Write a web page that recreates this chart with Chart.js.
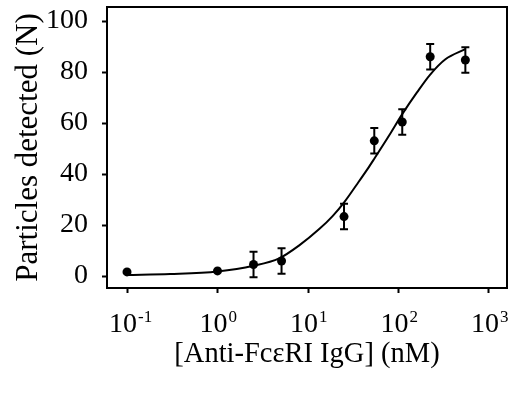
<!DOCTYPE html>
<html>
<head>
<meta charset="utf-8">
<script src="https://cdn.jsdelivr.net/npm/chart.js@4.4.1/dist/chart.umd.min.js"></script>
<style>
html,body{margin:0;padding:0;background:#fff;}
canvas{display:block;}
</style>
</head>
<body>
<canvas id="c" width="512" height="393"></canvas>
<script>
// ---- data ----
const xTickValues = [0.1, 1, 10, 100, 1000];
const xTickBase = '10';
const xTickExponents = ['-1', '0', '1', '2', '3'];
const yTickValues = [0, 20, 40, 60, 80, 100];

const concentration = [0.1, 1, 2.5, 5.1, 25, 54, 110, 224, 548];
const particles     = [1.6, 2.0, 4.5, 5.9, 23.3, 53, 60.4, 86, 84.7];
const errorBar      = [0, 0, 5, 5, 5, 5, 5, 5, 5];

const fitConc      = [0.1, 0.3, 1, 2.5, 4.8, 8, 13.4, 18.7, 25.2, 34, 45.6, 54, 80, 110, 160, 224, 330, 548];
const fitParticles = [0.4, 0.8, 1.8, 4.0, 6.9, 12, 18.5, 23.5, 29, 35.5, 42, 46, 55.5, 63.5, 72, 79, 85, 89];

const xLabel = '[Anti-Fc\u03B5RI IgG] (nM)';
const yLabel = 'Particles detected (N)';

const FONT = "'Liberation Serif', 'Times New Roman', serif";
const TICK_SIZE = 28;
const EXP_SIZE = 17;
const X_TICK_PAD = 15;
const X_TICK_LEN = 5;
const LABEL_SHIFT = -4;

const errorBarPlugin = {
  id: 'errorBars',
  afterDatasetsDraw(chart) {
    const ctx = chart.ctx, xs = chart.scales.x, ys = chart.scales.y;
    ctx.save();
    ctx.strokeStyle = '#000';
    ctx.lineWidth = 2;
    for (let i = 0; i < concentration.length; i++) {
      if (!errorBar[i]) continue;
      const px = xs.getPixelForValue(concentration[i]);
      const top = ys.getPixelForValue(particles[i] + errorBar[i]);
      const bot = ys.getPixelForValue(particles[i] - errorBar[i]);
      ctx.beginPath();
      ctx.moveTo(px, top); ctx.lineTo(px, bot);
      ctx.moveTo(px - 4, top); ctx.lineTo(px + 4, top);
      ctx.moveTo(px - 4, bot); ctx.lineTo(px + 4, bot);
      ctx.stroke();
    }
    ctx.restore();
  }
};

const framePlugin = {
  id: 'frame',
  afterDraw(chart) {
    const {ctx, chartArea: a} = chart;
    ctx.save();
    ctx.strokeStyle = '#000';
    ctx.lineWidth = 2;
    ctx.strokeRect(a.left, a.top, a.right - a.left, a.bottom - a.top);
    ctx.restore();
  }
};

// draws the decade exponents next to the "10" tick labels
const exponentPlugin = {
  id: 'exponents',
  afterDraw(chart) {
    const ctx = chart.ctx, xs = chart.scales.x;
    ctx.save();
    ctx.font = TICK_SIZE + 'px ' + FONT;
    const baseW = ctx.measureText(xTickBase).width;
    const yMid = xs.top + X_TICK_LEN + X_TICK_PAD + TICK_SIZE * 1.2 / 2;
    ctx.font = EXP_SIZE + 'px ' + FONT;
    ctx.fillStyle = '#000';
    ctx.textAlign = 'left';
    ctx.textBaseline = 'middle';
    xTickValues.forEach((v, i) => {
      const px = xs.getPixelForValue(v) + LABEL_SHIFT;
      ctx.fillText(xTickExponents[i], px + baseW / 2 + 1, yMid - 7);
    });
    ctx.restore();
  }
};

new Chart(document.getElementById('c'), {
  type: 'scatter',
  data: {
    datasets: [
      {
        data: fitConc.map((x, i) => ({x, y: fitParticles[i]})),
        showLine: true,
        borderColor: '#000',
        borderWidth: 2,
        pointRadius: 0,
        cubicInterpolationMode: 'monotone',
        fill: false
      },
      {
        data: concentration.map((x, i) => ({x, y: particles[i]})),
        showLine: false,
        pointRadius: 4.5,
        pointBackgroundColor: '#000',
        pointBorderColor: '#000',
        pointBorderWidth: 0
      }
    ]
  },
  options: {
    responsive: false,
    animation: false,
    layout: {padding: {top: 7, right: 5, left: 0, bottom: 0}},
    plugins: {legend: {display: false}, tooltip: {enabled: false}},
    scales: {
      x: {
        type: 'logarithmic',
        min: 0.0601,
        max: 1581,
        afterBuildTicks(s) { s.ticks = xTickValues.map(v => ({value: v})); },
        afterFit(s) { s.height = 105; s.paddingLeft = 0; s.paddingRight = 0; },
        ticks: {
          callback(v) { return xTickValues.indexOf(v) >= 0 ? xTickBase : ''; },
          color: '#000',
          font: {family: FONT, size: TICK_SIZE},
          padding: X_TICK_PAD,
          labelOffset: LABEL_SHIFT,
          maxRotation: 0,
          autoSkip: false
        },
        grid: {display: true, drawOnChartArea: false, drawTicks: true, tickLength: X_TICK_LEN, tickWidth: 2, tickColor: '#000'},
        border: {display: false},
        title: {display: true, text: xLabel, color: '#000', font: {family: FONT, size: 28.5}, padding: {top: 0, bottom: 21}}
      },
      y: {
        min: -4.7,
        max: 105.5,
        afterBuildTicks(s) { s.ticks = yTickValues.map(v => ({value: v})); },
        afterFit(s) { s.width = 107; s.paddingTop = 0; s.paddingBottom = 0; },
        ticks: {
          color: '#000',
          font: {family: FONT, size: TICK_SIZE},
          padding: 14
        },
        grid: {display: true, drawOnChartArea: false, drawTicks: true, tickLength: 5, tickWidth: 2, tickColor: '#000'},
        border: {display: false},
        title: {display: true, text: yLabel, color: '#000', font: {family: FONT, size: 31}, padding: {top: 10, bottom: 0}}
      }
    }
  },
  plugins: [errorBarPlugin, framePlugin, exponentPlugin]
});
</script>
</body>
</html>
